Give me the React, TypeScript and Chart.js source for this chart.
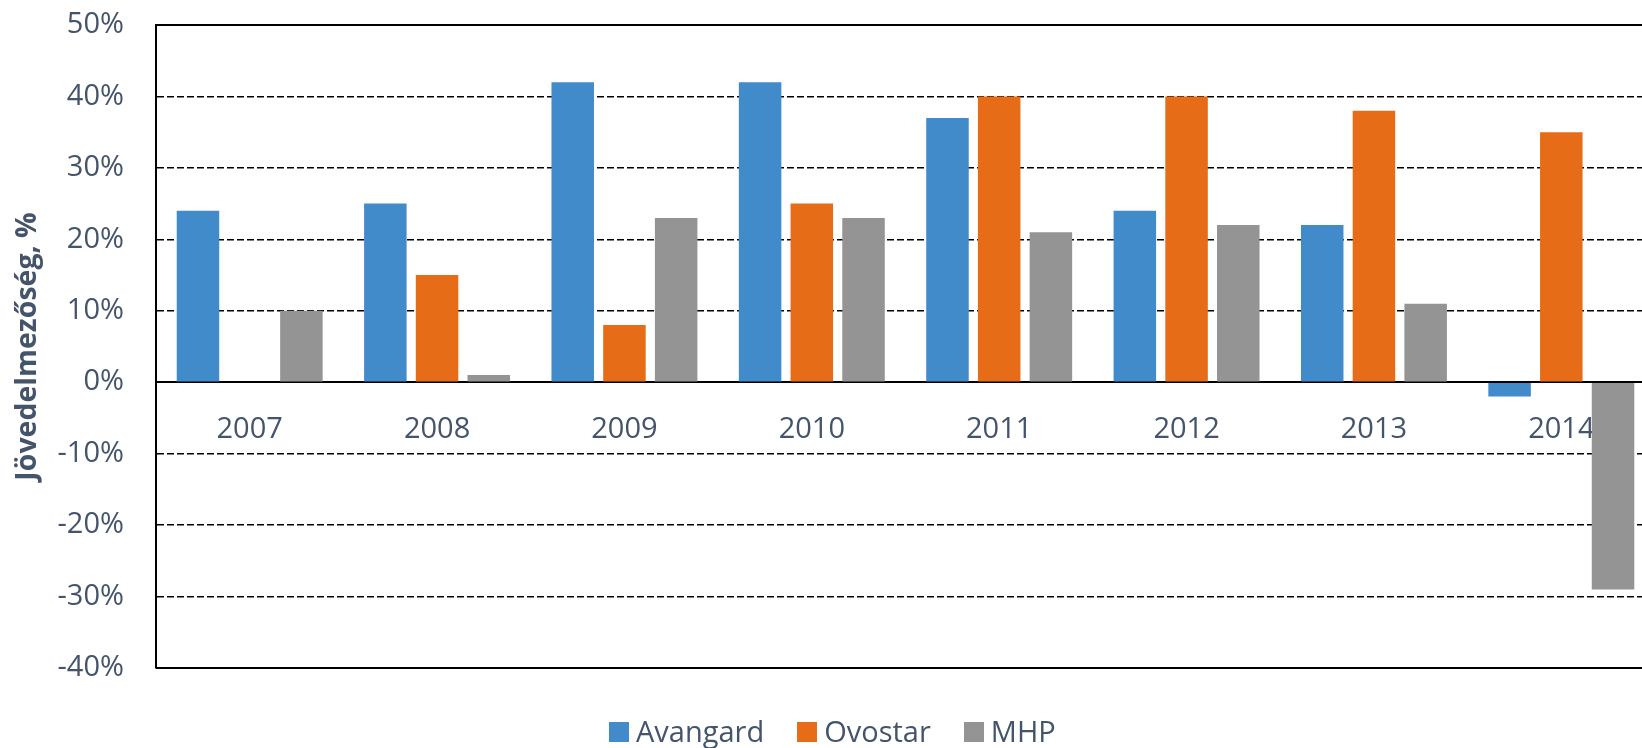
import React, { useEffect, useRef } from "react";
import { Chart, registerables } from "chart.js";

Chart.register(...registerables);

const categories = ["2007", "2008", "2009", "2010", "2011", "2012", "2013", "2014"];
const avangard = [24, 25, 42, 42, 37, 24, 22, -2];
const ovostar = [null, 15, 8, 25, 40, 40, 38, 35];
const mhp = [10, 1, 23, 23, 21, 22, 11, -29];
const seriesNames = ["Avangard", "Ovostar", "MHP"];
const seriesColors = ["#428BCA", "#E66C17", "#949494"];
const yMin = -40;
const yMax = 50;
const yStep = 10;
const yAxisTitle = "Jövedelmezőség, %";

const TEXT = "#44546A";
const FONT = "'Open Sans', 'Noto Sans', sans-serif";

export default function App() {
  const ref = useRef<HTMLCanvasElement | null>(null);

  useEffect(() => {
    const canvas = ref.current;
    if (!canvas) return;
    const seriesData = [avangard, ovostar, mhp];
    const zeroPad = (s: any) => {
      s.paddingTop = 0;
      s.paddingBottom = 0;
      s.paddingLeft = 0;
      s.paddingRight = 0;
    };
    const chart = new Chart(canvas, {
      type: "bar",
      data: {
        labels: categories,
        datasets: seriesNames.map((name, i) => ({
          label: name,
          data: seriesData[i] as any,
          backgroundColor: seriesColors[i],
          borderWidth: 0,
          categoryPercentage: 0.828,
          barPercentage: 0.822,
        })),
      },
      options: {
        responsive: false,
        animation: false,
        layout: { padding: { left: 0, top: 25, right: 45, bottom: 80 } },
        font: { family: FONT },
        plugins: {
          legend: { display: false },
          tooltip: { enabled: false },
        },
        scales: {
          x: {
            type: "category",
            position: { y: 0 } as any,
            grid: { display: false, drawTicks: false },
            border: { display: true, color: "#000", width: 2 },
            ticks: { padding: 30, color: TEXT, font: { family: FONT, size: 29 } },
            afterFit: zeroPad,
          },
          y: {
            type: "linear",
            position: "left",
            min: yMin,
            max: yMax,
            ticks: {
              stepSize: yStep,
              padding: 32,
              color: TEXT,
              font: { family: FONT, size: 29 },
              callback: (v: any) => `${v}%`,
            },
            grid: { color: "#000", lineWidth: 1.5, drawTicks: false },
            border: { display: true, color: "#000", width: 2, dash: [7, 3] },
            title: {
              display: true,
              text: yAxisTitle,
              color: TEXT,
              font: { family: FONT, size: 28.5, weight: "bold" },
              padding: { top: 11, bottom: 0 },
            },
            afterFit: (s: any) => {
              s.width = 156;
              zeroPad(s);
            },
          },
          y2: {
            type: "linear",
            position: "left",
            min: yMin,
            max: yMax,
            ticks: { display: false, stepSize: yMax - yMin },
            grid: { color: "#000", lineWidth: 2, drawTicks: false },
            border: { display: false },
            afterFit: (s: any) => {
              s.width = 0;
              zeroPad(s);
            },
          },
        },
      } as any,
    });
    return () => chart.destroy();
  }, []);

  return (
    <div
      style={{
        position: "fixed",
        left: 0,
        top: 0,
        width: 1642,
        height: 748,
        overflow: "hidden",
        background: "#fff",
      }}
    >
      <canvas ref={ref} width={1700} height={748} style={{ display: "block" }} />
      <div
        style={{
          position: "absolute",
          left: 609,
          top: 714,
          fontFamily: FONT,
          fontSize: 29,
          lineHeight: "34px",
          color: TEXT,
          whiteSpace: "nowrap",
        }}
      >
        {seriesNames.map((n, i) => (
          <span key={n} style={{ marginLeft: i ? 33 : 0 }}>
            <span
              style={{
                display: "inline-block",
                width: 20,
                height: 20,
                background: seriesColors[i],
                marginRight: 7,
                verticalAlign: "baseline",
              }}
            />
            {n}
          </span>
        ))}
      </div>
    </div>
  );
}
